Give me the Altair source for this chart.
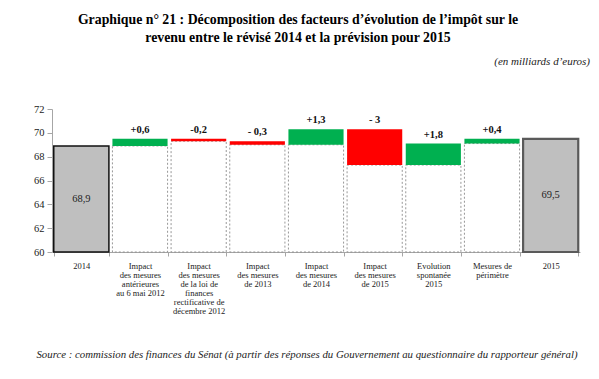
import altair as alt
import pandas as pd

categories = [
    "2014",
    "Impact|des mesures|antérieures|au 6 mai 2012",
    "Impact|des mesures|de la loi de|finances|rectificative de|décembre 2012",
    "Impact|des mesures|de 2013",
    "Impact|des mesures|de 2014",
    "Impact|des mesures|de 2015",
    "Evolution|spontanée|2015",
    "Mesures de|périmètre",
    "2015",
]
start_total = 68.9
end_total = 69.5
deltas = [0.6, -0.2, -0.3, 1.3, -3.0, 1.8, 0.4]
delta_labels = ["+0,6", "-0,2", "- 0,3", "+1,3", "- 3", "+1,8", "+0,4"]
total_labels = ["68,9", "69,5"]
axis_min = 60
axis_max = 72

rows = [{"cat": categories[0], "kind": "total", "lo": axis_min, "hi": start_total,
         "top": start_total, "mid": (axis_min + start_total) / 2, "label": total_labels[0], "base": axis_min}]
cur = start_total
for c, d, lab in zip(categories[1:-1], deltas, delta_labels):
    nxt = round(cur + d, 1)
    rows.append({"cat": c, "kind": "up" if d > 0 else "down", "lo": min(cur, nxt), "hi": max(cur, nxt),
                 "top": max(cur, nxt), "mid": None, "label": lab, "base": axis_min})
    cur = nxt
rows.append({"cat": categories[-1], "kind": "total", "lo": axis_min, "hi": end_total,
             "top": end_total, "mid": (axis_min + end_total) / 2, "label": total_labels[1], "base": axis_min})
df = pd.DataFrame(rows)

FONT = "Liberation Serif"
W, H = 528, 143

x_enc = alt.X("cat:N", sort=categories,
              scale=alt.Scale(paddingInner=0.06, paddingOuter=0.03),
              axis=alt.Axis(title=None, labelAngle=0, labelExpr="split(datum.label, '|')",
                            tickBand="extent", labelFont=FONT, labelFontSize=8.5,
                            labelLineHeight=9, labelColor="#222", labelPadding=5,
                            domainColor="#a6a6a6", tickColor="#a6a6a6", tickSize=4,
                            labelBaseline="top"))
y_scale = alt.Scale(domain=[axis_min, axis_max], nice=False, zero=False)
y_axis = alt.Axis(title=None, values=list(range(axis_min, axis_max + 1, 2)), grid=False,
                  labelFont=FONT, labelFontSize=10.5, labelColor="#222",
                  domainColor="#a6a6a6", tickColor="#a6a6a6", tickSize=5, labelPadding=3)

base = alt.Chart(df)

boxes = base.transform_filter("datum.kind != 'total'").mark_bar(
    fill="white", stroke="#8c8c8c", strokeDash=[2, 2], strokeWidth=0.9
).encode(x=x_enc, y=alt.Y("base:Q", scale=y_scale, axis=y_axis), y2="lo:Q")

moves = base.transform_filter("datum.kind != 'total'").mark_bar().encode(
    x=x_enc, y=alt.Y("lo:Q", scale=y_scale, axis=y_axis), y2="hi:Q",
    color=alt.Color("kind:N", scale=alt.Scale(domain=["up", "down"], range=["#00B050", "#FF0000"]), legend=None),
)

total_a = base.transform_filter(f"datum.cat == '{categories[0]}'").mark_bar(
    fill="#BFBFBF", stroke="#111", strokeWidth=1.5
).encode(x=x_enc, y=alt.Y("lo:Q", scale=y_scale, axis=y_axis), y2="hi:Q")
total_b = base.transform_filter(f"datum.cat == '{categories[-1]}'").mark_bar(
    fill="#BFBFBF", stroke="#5a5a5a", strokeWidth=2.2
).encode(x=x_enc, y=alt.Y("lo:Q", scale=y_scale, axis=y_axis), y2="hi:Q")

move_text = base.transform_filter("datum.kind != 'total'").mark_text(
    font=FONT, fontSize=10.5, fontWeight="bold", baseline="bottom", dy=-4, color="#111"
).encode(x=x_enc, y=alt.Y("top:Q", scale=y_scale, axis=y_axis), text="label:N")

total_text = base.transform_filter("datum.kind == 'total'").mark_text(
    font=FONT, fontSize=10.5, baseline="middle", color="#222"
).encode(x=x_enc, y=alt.Y("mid:Q", scale=y_scale, axis=y_axis), text="label:N")

one = alt.Data(values=[{}])
title_text = ["Graphique n° 21 : Décomposition des facteurs d’évolution de l’impôt sur le",
              "revenu entre le révisé 2014 et la prévision pour 2015"]
title = alt.Chart(one).mark_text(
    font=FONT, fontSize=13.8, fontWeight="bold", align="center", baseline="top",
    lineHeight=18, color="#000"
).encode(x=alt.value(246), y=alt.value(-96), text=alt.value(title_text))

unit = alt.Chart(one).mark_text(
    font=FONT, fontSize=11, fontStyle="italic", align="right", baseline="middle", color="#222"
).encode(x=alt.value(538), y=alt.value(-47), text=alt.value("(en milliards d’euros)"))

source = alt.Chart(one).mark_text(
    font=FONT, fontSize=10.8, fontStyle="italic", align="center", baseline="middle", color="#222"
).encode(x=alt.value(255), y=alt.value(246),
         text=alt.value("Source : commission des finances du Sénat (à partir des réponses du Gouvernement au questionnaire du rapporteur général)"))

chart = alt.layer(boxes, moves, total_a, total_b, move_text, total_text, title, unit, source).properties(
    width=W, height=H,
    autosize=alt.AutoSizeParams(type="none"),
    padding={"left": 44, "top": 101, "right": 11, "bottom": 116},
).configure_view(stroke=None)

chart.save("out.html", embed_options={"renderer": "svg", "actions": False})
